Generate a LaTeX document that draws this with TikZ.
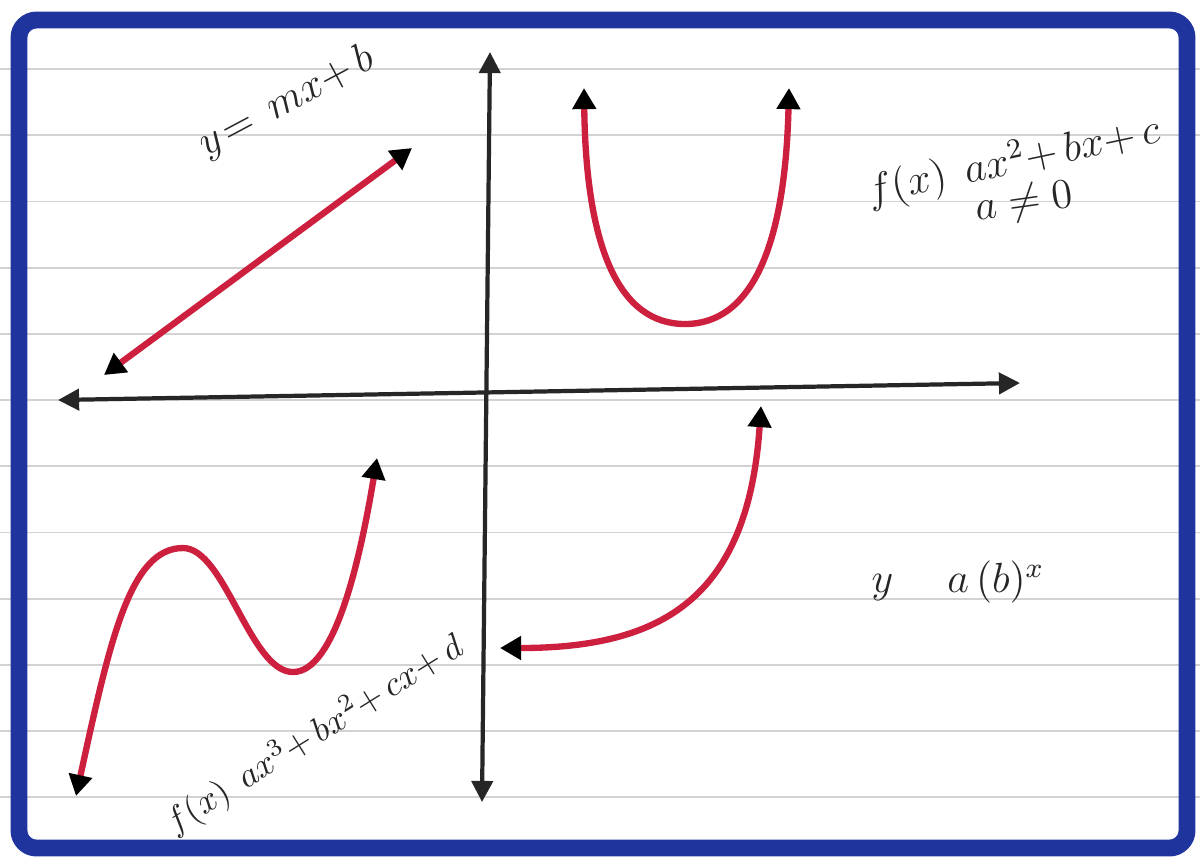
\documentclass[tikz,border=0pt]{standalone}
\usepackage{amsmath}
\usetikzlibrary{arrows.meta}

\definecolor{penblue}{RGB}{32,52,158}
\definecolor{penred}{RGB}{205,32,62}

\begin{document}
\begin{tikzpicture}[x=0.01cm, y=-0.01cm,
  papline/.style={draw=gray!35, line width=0.5pt},
  frame/.style={draw=penblue, line width=4.8pt, rounded corners=5pt},
  axisline/.style={draw=black!85, line width=1.2pt,
    {Triangle[length=6pt,width=6pt]}-{Triangle[length=6pt,width=6pt]}},
  graphline/.style={draw=penred, line width=1.8pt, line cap=round,
    {Triangle[black,length=6pt,width=6.5pt]}-{Triangle[black,length=6pt,width=6.5pt]}},
  hand/.style={font=\large, text=black!85, inner sep=1pt}]

\useasboundingbox (0,0) rectangle (1200,859);
\fill[white] (0,0) rectangle (1200,859);

% ruled paper
\foreach \yy in {0,...,11}
  \draw[papline] (0,69+66.2*\yy) -- (1200,69+66.2*\yy);

% blue border
\draw[frame] (19,20) rectangle (1187,848);

% axes
\coordinate (xl) at (58,400);
\coordinate (xr) at (1020,383);
\coordinate (yt) at (490,52);
\coordinate (yb) at (482,802);

\draw[axisline] (xl) -- (xr);
\draw[axisline] (yb) -- (yt);


% linear
\coordinate (lin1) at (104,375);
\coordinate (lin2) at (412,148);
\draw[graphline] (lin1) -- (lin2);

\node [hand, rotate=28] (linlabel) at (287,102) {$y\!=\,mx{+}\,b$};


% quadratic
\coordinate (par1) at (584,88);
\coordinate (parlow) at (685,324);
\coordinate (par2) at (789,88);
\draw[graphline] (par1) .. controls (586,250) and (620,324) .. (parlow)
  .. controls (750,324) and (785,250) .. (par2);

\node [hand, rotate=12] (quadlabel) at (1014,162) {$f(x)\;\, ax^{2}{+}\,bx{+}\,c$};
\node [hand, rotate=8] (quadcond) at (1024,203) {$a\neq 0$};


% exponential
\coordinate (exp1) at (500,648);
\coordinate (exp2) at (761,406);
\draw[graphline] (exp1) .. controls (660,648) and (748,600) .. (exp2);

\node [hand] (explabel) at (958,582) {$y\quad\; a\,(b)^{x}$};


% cubic
\coordinate (cub1) at (76,796);
\coordinate (cubtop) at (183,548);
\coordinate (cublow) at (293,672);
\coordinate (cub2) at (377,458);
\draw[graphline] (cub1) .. controls (110,640) and (130,548) .. (cubtop)
  .. controls (225,548) and (250,672) .. (cublow)
  .. controls (335,672) and (360,560) .. (cub2);

\node [hand, font=\normalsize, rotate=32] (cublabel) at (315,735) {$f(x)\;\, ax^{3}{+}\,bx^{2}{+}\,cx{+}\,d$};

\end{tikzpicture}
\end{document}
